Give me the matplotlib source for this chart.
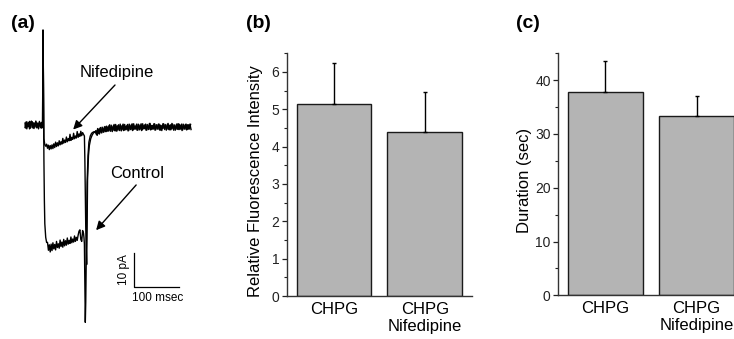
import numpy as np
import matplotlib
matplotlib.use("Agg")
import matplotlib.pyplot as plt
from matplotlib.ticker import MultipleLocator

plt.rcParams['font.family'] = ['Liberation Sans', 'DejaVu Sans']

# ---- panel (a): current traces (ms, pA) ----
pre_step = 2
nif_pre = [0.6, -0.9, 1.0, -0.5, 0.8, -1.1, 0.3, 1.2, -0.7, 0.7,
           -1.0, 0.4, 1.0, -0.6, 0.6, -0.9, 1.1, -0.3, 0.7, -0.8]
ctl_pre = [-0.7, 0.9, -1.1, 0.5, -0.4, 1.1, -0.9, 0.2, 1.0, -0.9,
           0.6, -0.6, 1.2, -0.8, 0.4, -1.1, 0.8, -0.2, -0.9, 0.9]

nif_on_t = [39, 40, 41, 42, 44, 46]
nif_on = [0.0, 27.5, 10.0, -4.0, -5.8, -6.2]
ctl_on_t = [39, 40, 41, 42, 43, 44, 46, 48]
ctl_on = [0.0, 28.0, 12.0, -10.0, -22.0, -29.0, -33.0, -34.5]

nif_plat_start = 48
nif_plat = [-5.6, -6.8, -5.9, -7.2, -6.0, -7.0, -5.8, -6.9, -5.5, -6.6,
            -5.0, -6.3, -5.2, -6.1, -4.6, -5.8, -4.9, -5.6, -3.9, -5.3,
            -4.4, -5.1, -3.5, -4.9, -4.0, -4.6, -2.7, -4.5, -3.6, -4.2,
            -2.4, -4.0, -3.2, -3.8, -1.9, -3.6, -2.6, -3.3, -1.8, -3.1,
            -2.2, -2.7]
ctl_plat_start = 50
ctl_plat = [-34.5, -36.8, -35.2, -37.3, -35.0, -36.9, -34.6, -36.4, -35.1, -36.7,
            -34.2, -36.0, -34.9, -36.2, -33.8, -35.7, -34.4, -35.9, -33.6, -35.5,
            -34.0, -35.3, -33.2, -35.0, -33.9, -34.8, -32.9, -34.6, -33.5, -34.4,
            -32.6, -34.2, -33.0, -33.9, -32.4, -31.2, -30.8, -33.6, -34.2, -31.0,
            -31.8]

nif_off_t = [132, 133, 135, 137, 138, 139, 141, 143, 146, 149, 152, 156]
nif_off = [-3.2, -10.0, -30.0, -41.0, -30.0, -16.0, -9.0, -6.0, -4.0, -3.0, -2.3, -2.0]
ctl_off_t = [131, 132, 133, 134, 135, 136, 137, 138, 140, 142, 145, 148, 152, 156]
ctl_off = [-33.0, -35.0, -46.0, -58.0, -52.0, -40.0, -27.0, -17.0, -9.0, -5.0,
           -3.2, -2.4, -2.0, -1.9]

tail_step = 2.5
nif_tail_start = 159
nif_tail = [-2.8, -1.0, -2.5, -0.9, -2.2, -0.6, -2.1, -0.5, -1.9, -0.3,
            -1.8, -0.2, -1.7, 0.0, -1.9, -0.1, -1.6, 0.2, -1.8, -0.1,
            -1.5, 0.3, -1.7, 0.0, -1.6, 0.2, -1.4, -0.1, -1.7, 0.3,
            -1.3, 0.1, -1.6, 0.4, -1.2, -0.2, -1.5, 0.3, -1.4, 0.0,
            -1.6, 0.4, -1.1, 0.1, -1.5, 0.2, -1.3, 0.5, -1.4, -0.1,
            -1.2, 0.4, -1.5, 0.1, -1.1, 0.3, -1.4, 0.0, -1.6, 0.4,
            -1.0, 0.2, -1.5, 0.3, -1.2, -0.1, -1.4, 0.5, -1.1, 0.1,
            -1.5, 0.2, -1.2, 0.4, -1.3, 0.0, -1.6, 0.3, -1.1, 0.2,
            -1.4, 0.1, -1.2, 0.3, -1.3]
ctl_tail_start = 158
ctl_tail = [-1.6, -3.0, -1.2, -2.6, -0.7, -2.3, -0.9, -2.0, -0.4, -1.9,
            -0.6, -1.7, 0.1, -1.8, -0.4, -1.5, 0.2, -1.7, -0.3, -1.4,
            0.1, -1.6, -0.2, -1.3, 0.3, -1.5, -0.4, -1.2, 0.2, -1.6,
            0.0, -1.3, 0.4, -1.4, -0.3, -1.1, 0.3, -1.5, 0.1, -1.2,
            0.4, -1.4, -0.2, -1.0, 0.3, -1.5, 0.0, -1.2, 0.5, -1.3,
            -0.1, -1.1, 0.4, -1.4, 0.1, -1.2, 0.3, -1.5, -0.2, -1.0,
            0.4, -1.3, 0.0, -1.2, 0.5, -1.4, 0.1, -1.1, 0.3, -1.5,
            -0.1, -1.2, 0.4, -1.3, 0.2, -1.1, 0.3, -1.4, 0.0, -1.2,
            0.3, -1.3, 0.1, -1.1, 0.2]

# ---- panels (b), (c): bar data ----
groups = ["CHPG", "CHPG\nNifedipine"]
rfi = [5.13, 4.38]
rfi_err = [1.11, 1.08]
duration = [37.8, 33.3]
duration_err = [5.8, 3.75]


def seg(start, step, vals):
    return start + step * np.arange(len(vals))


def trace(pre, on_t, on, plat_start, plat, off_t, off, tail_start, tail):
    t = np.concatenate([seg(0, pre_step, pre), on_t, seg(plat_start, 2, plat),
                        off_t, seg(tail_start, tail_step, tail)])
    y = np.concatenate([pre, on, plat, off, tail])
    return t, y


fig = plt.figure(figsize=(7.34, 3.39), dpi=100)

ax_a = fig.add_axes([0, 0, 230 / 734, 1])
ax_a.axis('off')
ax_a.set_xlim(-55.6, 455.6)
ax_a.set_ylim(-62.9, 36.8)

t, y = trace(nif_pre, nif_on_t, nif_on, nif_plat_start, nif_plat,
             nif_off_t, nif_off, nif_tail_start, nif_tail)
ax_a.plot(t, y, color='black', lw=1.0)
t, y = trace(ctl_pre, ctl_on_t, ctl_on, ctl_plat_start, ctl_plat,
             ctl_off_t, ctl_off, ctl_tail_start, ctl_tail)
ax_a.plot(t, y, color='black', lw=1.0)

arrow = dict(arrowstyle='-|>', color='black', lw=1, mutation_scale=13, shrinkA=0, shrinkB=0)
ax_a.text(204, 15.6, "Nifedipine", fontsize=12, ha='center', va='center')
ax_a.annotate("", xy=(107, -1.3), xytext=(200, 11.8), arrowprops=arrow)
ax_a.text(249, -14.1, "Control", fontsize=12, ha='center', va='center')
ax_a.annotate("", xy=(158, -30.9), xytext=(247, -17.6), arrowprops=arrow)

# scale bar
ax_a.plot([243, 243, 343], [-37.6, -47.6, -47.6], color='black', lw=0.9)
ax_a.text(221, -42.6, "10 pA", fontsize=8.5, rotation=90, ha='center', va='center')
ax_a.text(295, -50.8, "100 msec", fontsize=8.5, ha='center', va='center')


def bar_panel(rect, vals, errs, ylim, major, minor, ylabel, label_x):
    ax = fig.add_axes(rect)
    x = [1, 2]
    ax.bar(x, vals, width=0.82, color='#b4b4b4', edgecolor='#1a1a1a', linewidth=1, zorder=2)
    ax.errorbar(x, vals, yerr=[[0, 0], errs], fmt='none', ecolor='black',
                elinewidth=1, capsize=1.5, capthick=1, zorder=3)
    ax.set_xlim(0.484, 2.52)
    ax.set_ylim(*ylim)
    ax.set_xticks(x)
    ax.set_xticklabels(groups, fontsize=12)
    ax.tick_params(axis='x', length=0, pad=4)
    ax.yaxis.set_major_locator(MultipleLocator(major))
    ax.yaxis.set_minor_locator(MultipleLocator(minor))
    ax.tick_params(axis='y', which='major', direction='out', length=3.5, width=0.9,
                   labelsize=10, pad=2, colors='#222222')
    ax.tick_params(axis='y', which='minor', direction='out', length=2, width=0.8, colors='#222222')
    for side in ['top', 'right']:
        ax.spines[side].set_visible(False)
    for side in ['left', 'bottom']:
        ax.spines[side].set_color('#333333')
        ax.spines[side].set_linewidth(1)
    ax.set_ylabel(ylabel, fontsize=12)
    ax.yaxis.set_label_coords(label_x, 0.475)
    return ax


bar_panel([287 / 734, 43 / 339, 185 / 734, 242.7 / 339], rfi, rfi_err, (0, 6.5), 1, 0.5,
          "Relative Fluorescence Intensity", -0.13)
bar_panel([558.3 / 734, 43.7 / 339, 185.7 / 734, 242 / 339], duration, duration_err, (0, 45), 10, 5,
          "Duration (sec)", -0.142)

fig.text(22.5 / 734, 1 - 23 / 339, "(a)", fontsize=14, fontweight='bold', ha='center', va='center')
fig.text(258.8 / 734, 1 - 24 / 339, "(b)", fontsize=14, fontweight='bold', ha='center', va='center')
fig.text(527.5 / 734, 1 - 23 / 339, "(c)", fontsize=14, fontweight='bold', ha='center', va='center')

fig.savefig("out.png", dpi=100)
